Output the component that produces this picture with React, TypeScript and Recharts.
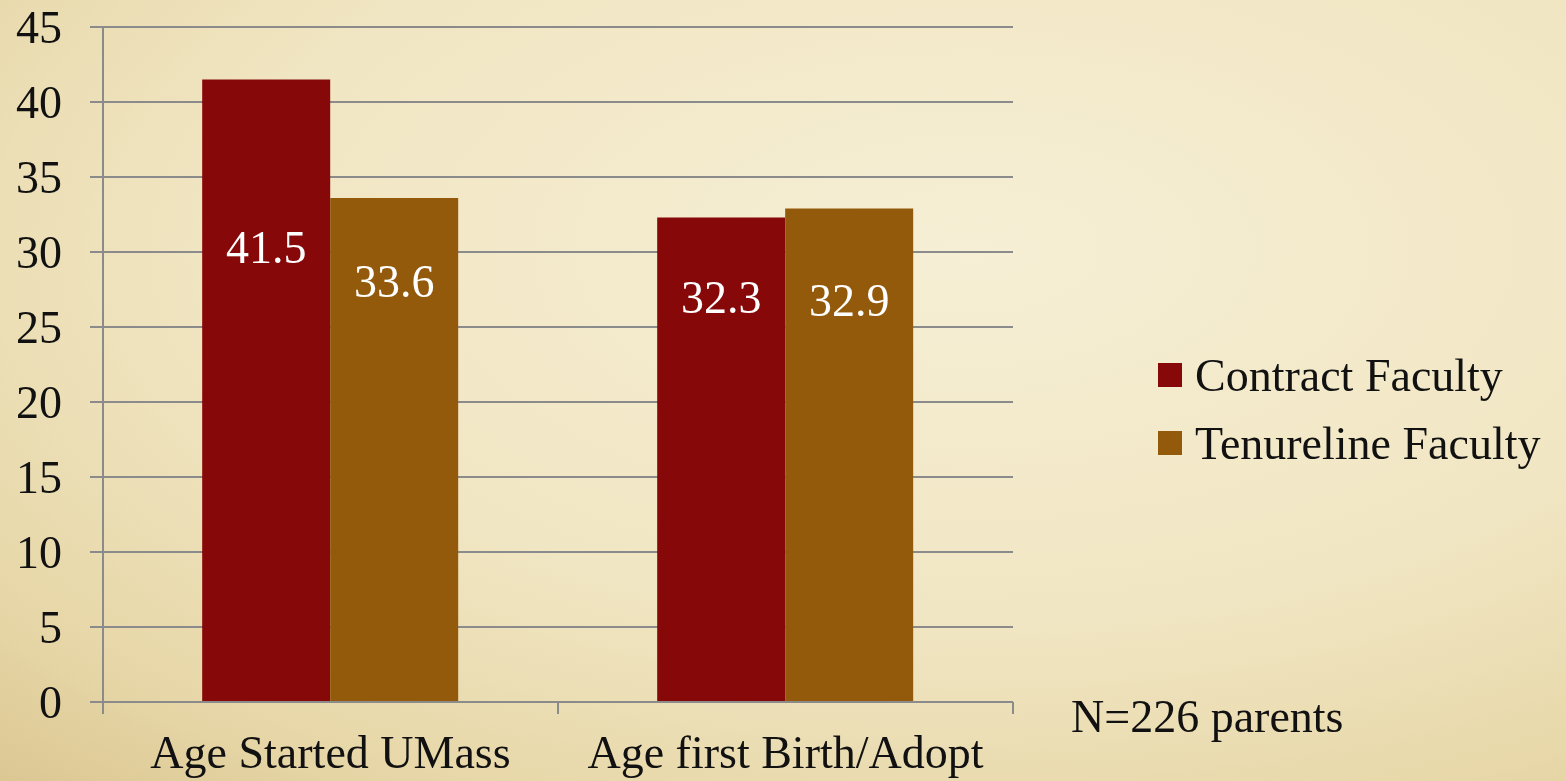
import React from 'react';
import { BarChart, Bar, XAxis, YAxis, CartesianGrid, Legend, LabelList } from 'recharts';

const categories = ['Age Started UMass', 'Age first Birth/Adopt'];
const contractFaculty = [41.5, 32.3];
const tenurelineFaculty = [33.6, 32.9];
const yTicks = [0, 5, 10, 15, 20, 25, 30, 35, 40, 45];
const sampleNote = 'N=226 parents';

const data = categories.map((category, i) => ({
    category,
    contract: contractFaculty[i],
    tenureline: tenurelineFaculty[i]
}));

const FONT = "'Liberation Serif', 'Times New Roman', serif";
const FS = 46;
const GRID = '#8b8b8b';
const RED = '#860808';
const BROWN = '#935a0b';

// label drop below the bar top, per series and category (hand placed in the original)
const labelDrop: Record<string, number[]> = {
    contract: [168, 80],
    tenureline: [83, 92]
};

const makeLabel = (key: string) => (props: any) => {
    const { x, y, width, value, index } = props;
    return (
        <text
            x={x + width / 2}
            y={y + labelDrop[key][index]}
            textAnchor="middle"
            dominantBaseline="central"
            fill="#ffffff"
            fontSize={FS}
            fontFamily={FONT}
        >
            {value}
        </text>
    );
};

const CategoryTick = (props: any) => {
    const { x, y, payload, index, visibleTicksCount } = props;
    const off = payload.offset || 0;
    const last = index === (visibleTicksCount || categories.length) - 1;
    return (
        <g>
            <line x1={x - off} y1={y} x2={x - off} y2={y + 12} stroke={GRID} strokeWidth={2} />
            {last && <line x1={x + off} y1={y} x2={x + off} y2={y + 12} stroke={GRID} strokeWidth={2} />}
            <text x={x} y={y + 66} textAnchor="middle" fill="#111" fontSize={FS} fontFamily={FONT}>
                {payload.value}
            </text>
        </g>
    );
};

const renderLegend = (props: any) => {
    const { payload } = props;
    return (
        <div style={{ fontFamily: FONT, fontSize: FS, color: '#111' }}>
            {(payload || []).map((entry: any) => (
                <div key={entry.value} style={{ display: 'flex', alignItems: 'center', height: 68 }}>
                    <span style={{ display: 'inline-block', width: 24, height: 24, background: entry.color, marginRight: 13 }} />
                    <span style={{ whiteSpace: 'nowrap' }}>{entry.value}</span>
                </div>
            ))}
        </div>
    );
};

const App = () => {
    return (
        <div
            style={{
                position: 'fixed',
                left: 0,
                top: 0,
                width: 1566,
                height: 781,
                background: 'radial-gradient(ellipse 95% 95% at 62% 32%, #f6efd5 0%, #f1e6c3 50%, #e7d7a8 80%, #d9c48e 100%)',
                overflow: 'hidden'
            }}
        >
            <BarChart
                width={1566}
                height={781}
                data={data}
                margin={{ top: 27, right: 553, bottom: 0, left: 0 }}
                barCategoryGap="21.8%"
                barGap={0}
            >
                <CartesianGrid vertical={false} stroke={GRID} strokeWidth={2} />
                <XAxis
                    dataKey="category"
                    height={79}
                    axisLine={{ stroke: GRID, strokeWidth: 2 }}
                    tickLine={false}
                    tickSize={0}
                    tickMargin={0}
                    interval={0}
                    tick={<CategoryTick />}
                />
                <YAxis
                    width={103}
                    domain={[0, 45]}
                    ticks={yTicks}
                    interval={0}
                    tickSize={13}
                    tickMargin={28}
                    axisLine={{ stroke: GRID, strokeWidth: 2 }}
                    tickLine={{ stroke: GRID, strokeWidth: 2 }}
                    tick={{ fill: '#111', fontSize: FS, fontFamily: FONT }}
                />
                <Legend
                    layout="vertical"
                    align="center"
                    verticalAlign="middle"
                    content={renderLegend}
                    wrapperStyle={{ position: 'absolute', left: 1158, top: 341, width: 408 }}
                />
                <Bar dataKey="contract" name="Contract Faculty" fill={RED} isAnimationActive={false}>
                    <LabelList dataKey="contract" content={makeLabel('contract')} />
                </Bar>
                <Bar dataKey="tenureline" name="Tenureline Faculty" fill={BROWN} isAnimationActive={false}>
                    <LabelList dataKey="tenureline" content={makeLabel('tenureline')} />
                </Bar>
            </BarChart>
            <div
                style={{
                    position: 'absolute',
                    left: 1071,
                    top: 690,
                    fontFamily: FONT,
                    fontSize: FS,
                    color: '#111',
                    whiteSpace: 'nowrap'
                }}
            >
                {sampleNote}
            </div>
        </div>
    );
};

export default App;
